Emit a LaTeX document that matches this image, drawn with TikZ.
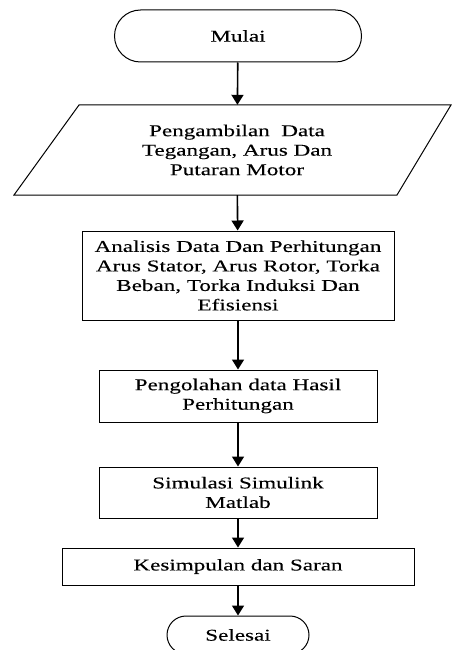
\documentclass[tikz,border=0pt]{standalone}
\usepackage{fontspec}
\setmainfont{Liberation Serif}[FakeStretch=1.4,FakeBold=0.2]
\usetikzlibrary{arrows.meta}

\tikzset{
  kotak/.style={draw, line width=1pt, align=center, inner sep=0pt, font=\fontsize{16.5}{19.5}\selectfont},
  teks/.style={align=center, inner sep=0pt, font=\fontsize{16.5}{19.5}\selectfont},
  panah/.style={-{Triangle[length=10pt,width=12pt]}, line width=1.6pt}
}

\begin{document}
\begin{tikzpicture}[x=1pt,y=-1pt]
\useasboundingbox (0,0) rectangle (452,650);
\node[kotak, rounded corners=26pt, minimum width=247pt, minimum height=52pt] (mulai) at (238,36) {Mulai};
\draw[line width=1pt] (79,105) -- (451,105) -- (397,195) -- (14,195) -- cycle;
\node[teks, minimum height=90pt] (ambil) at (237,150) {Pengambilan\ \ Data\\Tegangan, Arus Dan\\Putaran Motor};
\node[kotak, minimum width=312pt, minimum height=89pt] (analisis) at (238,275.5) {Analisis Data Dan Perhitungan\\Arus Stator, Arus Rotor, Torka\\Beban, Torka Induksi Dan\\Efisiensi};
\node[kotak, minimum width=278pt, minimum height=52pt] (olah) at (238,396) {Pengolahan data Hasil\\Perhitungan};
\node[kotak, minimum width=278pt, minimum height=51pt] (simulasi) at (238,492.5) {Simulasi Simulink\\Matlab};
\node[kotak, minimum width=352pt, minimum height=37pt] (simpulan) at (238,566.5) {Kesimpulan dan Saran};
\node[kotak, rounded corners=19pt, minimum width=142pt, minimum height=38pt] (selesai) at (238,635) {Selesai};
\draw[panah] (mulai) -- (ambil);
\draw[panah] (ambil) -- (analisis);
\draw[panah] (analisis) -- (olah);
\draw[panah] (olah) -- (simulasi);
\draw[panah] (simulasi) -- (simpulan);
\draw[panah] (simpulan) -- (selesai);
\end{tikzpicture}
\end{document}
